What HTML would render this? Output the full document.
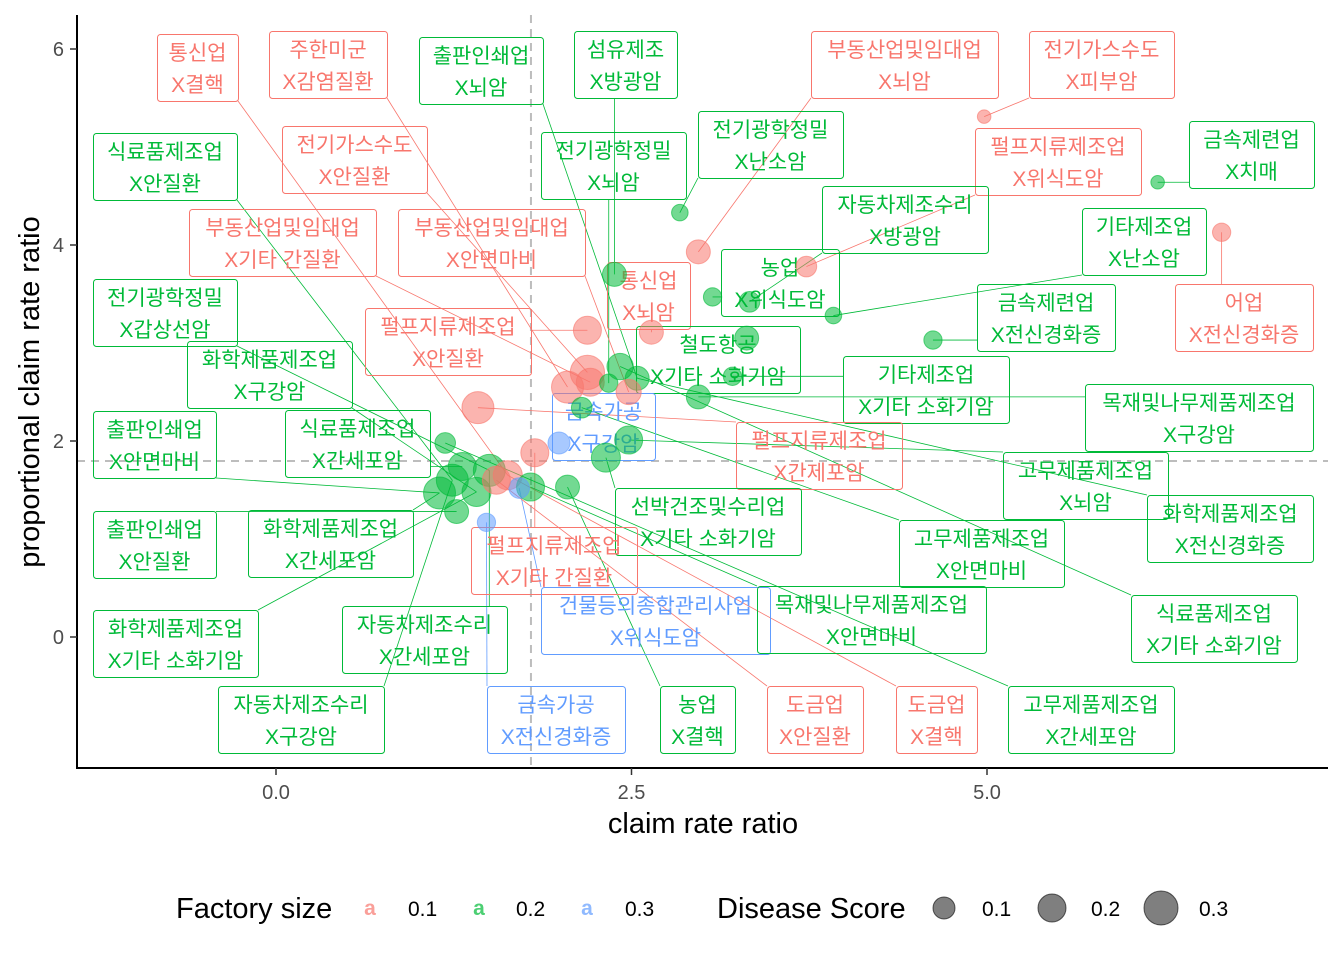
<!DOCTYPE html>
<html><head><meta charset="utf-8">
<style>
html,body{margin:0;padding:0;background:#fff;}
svg{display:block;font-family:"Liberation Sans","Noto Sans CJK KR",sans-serif;}
</style></head>
<body>
<svg id="chart" width="1344" height="960" xmlns="http://www.w3.org/2000/svg">
<g id="grid"></g>
<g id="segs"></g>
<g id="labels"></g>
<g id="pts"></g>
<g id="axes">
<line x1="77" y1="15" x2="77" y2="769" stroke="#000" stroke-width="2"/>
<line x1="76" y1="768" x2="1328" y2="768" stroke="#000" stroke-width="2"/>
</g>
<text x="703" y="833" font-size="29" text-anchor="middle" fill="#000">claim rate ratio</text>
<text transform="translate(39,392) rotate(-90)" font-size="29" text-anchor="middle" fill="#000">proportional claim rate ratio</text>
<g>
<text x="176" y="918" font-size="29">Factory size</text>
<text x="370" y="915" font-size="21" font-weight="bold" fill="#F8766D" fill-opacity="0.7" text-anchor="middle">a</text>
<text x="408" y="916" font-size="21">0.1</text>
<text x="479" y="915" font-size="21" font-weight="bold" fill="#00BA38" fill-opacity="0.7" text-anchor="middle">a</text>
<text x="516" y="916" font-size="21">0.2</text>
<text x="587" y="915" font-size="21" font-weight="bold" fill="#619CFF" fill-opacity="0.7" text-anchor="middle">a</text>
<text x="625" y="916" font-size="21">0.3</text>
</g>
<g>
<text x="717" y="918" font-size="29">Disease Score</text>
<circle cx="944" cy="908" r="11" fill="#000" fill-opacity="0.5" stroke="#000" stroke-opacity="0.6"/>
<text x="982" y="916" font-size="21">0.1</text>
<circle cx="1052" cy="908" r="14" fill="#000" fill-opacity="0.5" stroke="#000" stroke-opacity="0.6"/>
<text x="1091" y="916" font-size="21">0.2</text>
<circle cx="1161" cy="908" r="17" fill="#000" fill-opacity="0.5" stroke="#000" stroke-opacity="0.6"/>
<text x="1199" y="916" font-size="21">0.3</text>
</g>
</svg>
<script>
const xVals=[4.98,6.20,6.65,2.84,2.97,3.73,2.38,3.07,3.33,3.92,4.62,2.19,2.64,3.31,2.42,2.19,2.21,2.54,2.05,2.34,2.48,2.97,3.21,1.42,2.15,1.99,2.48,2.32,1.82,1.19,1.50,1.24,1.63,1.79,2.05,1.15,1.41,1.27,1.71,1.48,1.31,1.55];
const yVals=[5.31,4.64,4.13,4.33,3.93,3.78,3.70,3.47,3.42,3.28,3.03,3.13,3.11,3.05,2.76,2.70,2.60,2.64,2.55,2.59,2.50,2.45,2.66,2.34,2.34,1.98,2.01,1.83,1.88,1.98,1.70,1.60,1.65,1.53,1.53,1.47,1.48,1.28,1.52,1.17,1.74,1.60];
const scores=[0.0,0.0,0.05,0.03,0.13,0.08,0.13,0.05,0.08,0.03,0.05,0.2,0.13,0.13,0.17,0.33,0.2,0.13,0.28,0.05,0.15,0.13,0.05,0.28,0.08,0.1,0.2,0.22,0.2,0.08,0.28,0.28,0.22,0.2,0.13,0.28,0.22,0.13,0.08,0.05,0.2,0.2];
const groups=[0,1,0,1,0,0,1,1,1,1,1,0,0,1,1,0,0,1,0,1,0,1,1,0,1,2,1,1,0,1,1,1,0,1,1,1,1,1,2,2,1,0];
const xTicks=[0,2.5,5];
const xTickLabels=["0.0","2.5","5.0"];
const yTicks=[0,2,4,6];
const yTickLabels=["0","2","4","6"];
const refX=1.793, refY=1.796;
const labelLine1=["통신업","주한미군","출판인쇄업","섬유제조","부동산업및임대업","전기가스수도","식료품제조업","전기가스수도","전기광학정밀","전기광학정밀","펄프지류제조업","금속제련업","자동차제조수리","부동산업및임대업","부동산업및임대업","기타제조업","통신업","농업","전기광학정밀","금속제련업","어업","펄프지류제조업","화학제품제조업","철도항공","기타제조업","목재및나무제품제조업","금속가공","출판인쇄업","식료품제조업","펄프지류제조업","고무제품제조업","화학제품제조업","선박건조및수리업","출판인쇄업","화학제품제조업","펄프지류제조업","고무제품제조업","건물등의종합관리사업","목재및나무제품제조업","식료품제조업","화학제품제조업","자동차제조수리","자동차제조수리","금속가공","농업","도금업","도금업","고무제품제조업"];
const labelLine2=["X결핵","X감염질환","X뇌암","X방광암","X뇌암","X피부암","X안질환","X안질환","X뇌암","X난소암","X위식도암","X치매","X방광암","X기타 간질환","X안면마비","X난소암","X뇌암","X위식도암","X갑상선암","X전신경화증","X전신경화증","X안질환","X구강암","X기타 소화기암","X기타 소화기암","X구강암","X구강암","X안면마비","X간세포암","X간제포암","X뇌암","X전신경화증","X기타 소화기암","X안질환","X간세포암","X기타 간질환","X안면마비","X위식도암","X안면마비","X기타 소화기암","X기타 소화기암","X간세포암","X구강암","X전신경화증","X결핵","X안질환","X결핵","X간세포암"];
const labelTarget=[32,18,17,6,4,0,31,15,19,3,5,1,8,16,20,9,12,7,30,10,2,11,36,13,22,21,25,35,40,23,26,17,27,37,35,28,24,38,33,14,36,30,31,39,34,41,32,29];
// label box layout (pixels): left, top, width
const boxL=[157,269,419,574,811,1029,93,282,541,698,975,1189,822,189,398,1082,607,721,93,977,1175,365,187,636,843,1085,552,93,285,736,1003,1147,615,93,248,471,899,541,757,1131,93,342,218,487,660,767,896,1008];
const boxT=[34,31,37,31,31,31,133,126,132,111,128,121,186,209,209,208,262,249,279,284,284,308,341,326,356,384,393,411,410,422,452,495,488,511,510,527,520,587,586,595,610,606,686,686,686,686,686,686];
const boxW=[81,118,124,103,187,145,144,145,145,145,166,125,166,187,187,124,83,118,144,138,138,166,165,164,166,228,103,123,145,166,165,166,186,123,165,166,165,229,229,166,165,165,166,138,75,96,81,166];
const colors=["#F8766D","#00BA38","#619CFF"];
const NS="http://www.w3.org/2000/svg";
function sx(v){return 276+v*142.2;}
function sy(v){return 637-v*98;}
function rad(s){return Math.sqrt(Math.max(6,46+750*s));}
function mk(tag,attrs,parent){const e=document.createElementNS(NS,tag);for(const k in attrs)e.setAttribute(k,attrs[k]);parent.appendChild(e);return e;}
const grid=document.getElementById('grid');
let l=mk('line',{x1:sx(refX),y1:15,x2:sx(refX),y2:768,stroke:'#bdbdbd','stroke-width':2,'stroke-dasharray':'8,6'},grid);


l=mk('line',{x1:77,y1:sy(refY),x2:1328,y2:sy(refY),stroke:'#bdbdbd','stroke-width':2,'stroke-dasharray':'8,6'},grid);


const axes=document.getElementById('axes');
xTicks.forEach((t,i)=>{
  const tk=mk('line',{x1:sx(t),y1:768,x2:sx(t),y2:775,stroke:'#333','stroke-width':1.5},axes);
  
  
  const tx=mk('text',{x:sx(t),y:799,'font-size':20,'text-anchor':'middle',fill:'#4d4d4d'},axes);
  tx.textContent=xTickLabels[i];
  
  
});
yTicks.forEach((t,i)=>{
  const tk=mk('line',{x1:70,y1:sy(t),x2:77,y2:sy(t),stroke:'#333','stroke-width':1.5},axes);
  
  
  const tx=mk('text',{x:64,y:sy(t)+7,'font-size':20,'text-anchor':'end',fill:'#4d4d4d'},axes);
  tx.textContent=yTickLabels[i];
  
  
});
const segs=document.getElementById('segs'), labs=document.getElementById('labels'), pts=document.getElementById('pts');
labelLine1.forEach((t,i)=>{
  const p=labelTarget[i];
  const px=sx(xVals[p]), py=sy(yVals[p]);
  const L=boxL[i],T=boxT[i],W=boxW[i],H=67;
  const cx=Math.min(Math.max(px,L),L+W), cy=Math.min(Math.max(py,T),T+H);
  const c=colors[groups[p]];
  const s=mk('line',{x1:cx,y1:cy,x2:px,y2:py,stroke:c,'stroke-width':0.8},segs);
  
  
  const g=mk('g',{},labs);
  
  
  mk('rect',{x:L+0.5,y:T+0.5,width:W,height:H,rx:3,fill:'none',stroke:c,'stroke-width':1},g);
  const t1=mk('text',{x:L+W/2,y:T+26,'font-size':21,'text-anchor':'middle',fill:c},g);
  t1.textContent=t;
  const t2=mk('text',{x:L+W/2,y:T+58,'font-size':21,'text-anchor':'middle',fill:c},g);
  t2.textContent=labelLine2[i];
});
xVals.forEach((v,i)=>{
  const c=colors[groups[i]];
  const e=mk('circle',{cx:sx(v),cy:sy(yVals[i]),r:rad(scores[i]),fill:c,'fill-opacity':0.55,stroke:c,'stroke-opacity':0.6},pts);
  
  
});
</script>
</body></html>
